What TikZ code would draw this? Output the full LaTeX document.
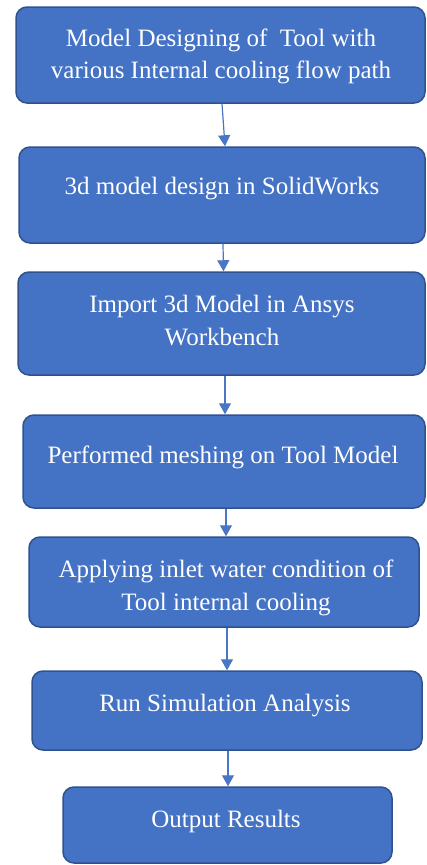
\documentclass[tikz,border=0pt]{standalone}
\usepackage{fontspec}
\setmainfont{Liberation Serif}
\usetikzlibrary{arrows.meta}
\definecolor{boxfill}{HTML}{4472C4}
\definecolor{boxline}{HTML}{2F528F}
\definecolor{arrowc}{HTML}{4A76C6}
\tikzset{
  stepbox/.style={draw=boxline, line width=1.5pt, fill=boxfill, rounded corners=11pt, inner sep=0pt},
  steptext/.style={text=white, font=\fontsize{25}{33}\selectfont, align=center, anchor=base, inner sep=0pt},
  flow/.style={draw=arrowc, line width=1.2pt, -{Triangle[width=12pt,length=11pt]}}
}
\begin{document}
\begin{tikzpicture}[x=1pt,y=-1pt]
\useasboundingbox (0,0) rectangle (426,865);
\fill[white] (0,0) rectangle (426,865);
% boxes
\node[stepbox, minimum width=409pt, minimum height=96pt] (b1) at (220.5,55) {};
\node[stepbox, minimum width=406pt, minimum height=96pt] (b2) at (222,195) {};
\node[stepbox, minimum width=407pt, minimum height=103pt] (b3) at (221.5,323.5) {};
\node[stepbox, minimum width=402pt, minimum height=93pt] (b4) at (224,461.5) {};
\node[stepbox, minimum width=390pt, minimum height=90pt] (b5) at (224,582) {};
\node[stepbox, minimum width=390pt, minimum height=79pt] (b6) at (227,710.5) {};
\node[stepbox, minimum width=329pt, minimum height=76pt] (b7) at (227.5,825) {};
% texts (multi-line: base = last line's baseline)
\node[steptext, font=\fontsize{25}{32}\selectfont] (t1) at (221,78) {Model Designing of~ Tool with\\various Internal cooling flow path};
\node[steptext] (t2) at (222,194) {3d model design in SolidWorks};
\node[steptext] (t3) at (222,345) {Import 3d Model in Ansys\\Workbench};
\node[steptext] (t4) at (223,463) {Performed meshing on Tool Model};
\node[steptext] (t5) at (226,610) {Applying inlet water condition of\\Tool internal cooling};
\node[steptext] (t6) at (225,711) {Run Simulation Analysis};
\node[steptext] (t7) at (226,827) {Output Results};
% connectors
\draw[flow] ([xshift=1.5pt]b1.south) -- ([xshift=3pt]b2.north);
\draw[flow] ([xshift=1pt]b2.south) -- ([xshift=2pt]b3.north);
\draw[flow] ([xshift=3.5pt]b3.south) -- ([xshift=1pt]b4.north);
\draw[flow] ([xshift=2pt]b4.south) -- ([xshift=2pt]b5.north);
\draw[flow] ([xshift=3pt]b5.south) -- ([xshift=0pt]b6.north);
\draw[flow] ([xshift=1pt]b6.south) -- ([xshift=0.5pt]b7.north);
\end{tikzpicture}
\end{document}
